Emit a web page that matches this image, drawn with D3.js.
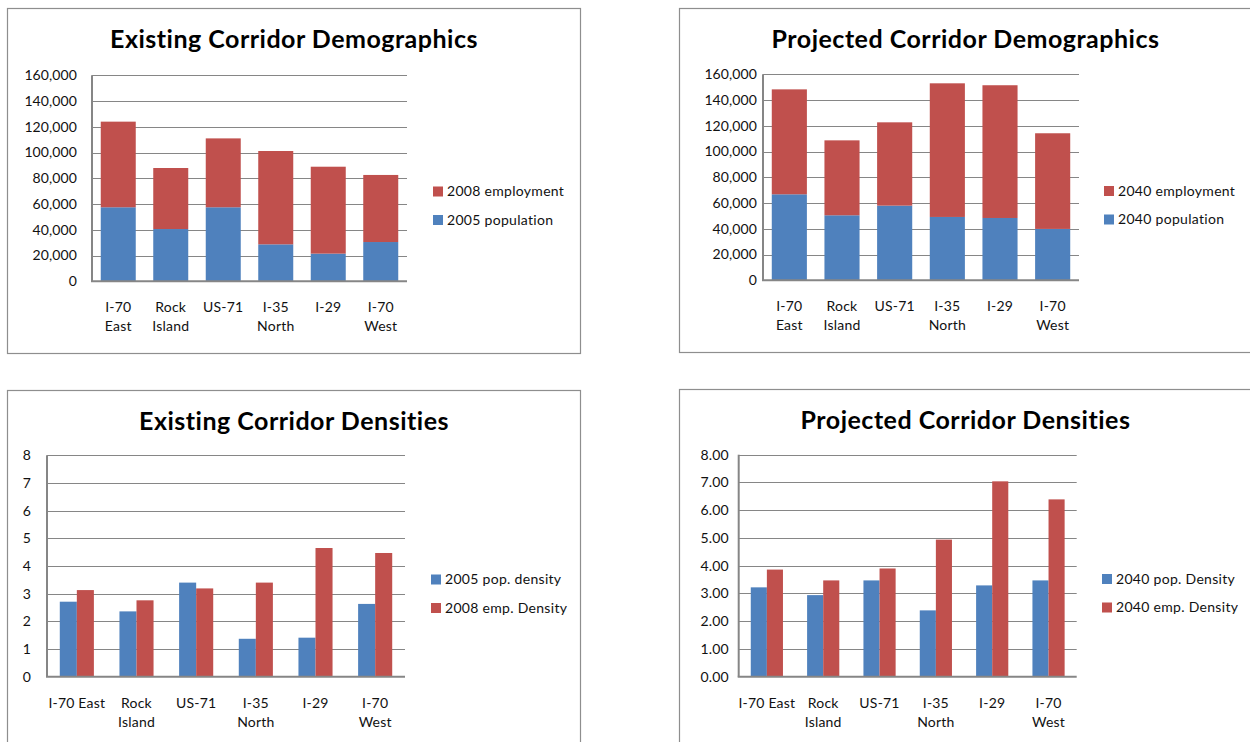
<!DOCTYPE html>
<html>
<head>
<meta charset="utf-8">
<script src="https://cdn.jsdelivr.net/npm/d3@7"></script>
<style>
  html, body { margin: 0; padding: 0; background: #fff; }
  svg { display: block; font-family: Lato, "Open Sans", sans-serif; }
</style>
</head>
<body>
<svg id="chart" width="1250" height="742"></svg>
<script>
// Categories (multi-line labels split on \n)
const demoCategories = ["I-70\nEast", "Rock\nIsland", "US-71", "I-35\nNorth", "I-29", "I-70\nWest"];
const densCategories = ["I-70 East", "Rock\nIsland", "US-71", "I-35\nNorth", "I-29", "I-70\nWest"];

// Existing demographics
const pop2005 = [57500, 40600, 57500, 28700, 21500, 30500];
const emp2008 = [66500, 47400, 53500, 72500, 67500, 52100];

// Projected demographics
const pop2040 = [66800, 50500, 58000, 49200, 48400, 39900];
const emp2040 = [81500, 58200, 64700, 103800, 103100, 74300];

// Existing densities
const popDens2005 = [2.71, 2.36, 3.40, 1.37, 1.41, 2.63];
const empDens2008 = [3.13, 2.76, 3.19, 3.40, 4.65, 4.47];

// Projected densities
const popDens2040 = [3.22, 2.94, 3.47, 2.39, 3.29, 3.47];
const empDens2040 = [3.86, 3.47, 3.90, 4.94, 7.04, 6.39];

const demoTicks = [0, 20000, 40000, 60000, 80000, 100000, 120000, 140000, 160000];
const densTicks = [0, 1, 2, 3, 4, 5, 6, 7, 8];

const BLUE = "#4f81bd", RED = "#c0504d", GRID = "#868686", BORDER = "#8e8e8e";

const svg = d3.select("#chart");

const charts = [
  {
    title: "Existing Corridor Demographics", type: "stacked",
    box: {x: 7.5, y: 8.5, w: 573, h: 345},
    plot: {l: 92, r: 407, t: 75.3, b: 281.3}, labelGap: 15,
    cats: demoCategories, ticks: demoTicks, fmt: d3.format(","),
    series: [{name: "2005 population", values: pop2005, color: BLUE},
             {name: "2008 employment", values: emp2008, color: RED}],
    legend: {x: 433, y: 191.5, rev: true}
  },
  {
    title: "Projected Corridor Demographics", type: "stacked",
    box: {x: 679.5, y: 8.5, w: 572, h: 344},
    plot: {l: 763, r: 1079, t: 74.3, b: 280.3}, labelGap: 6,
    cats: demoCategories, ticks: demoTicks, fmt: d3.format(","),
    series: [{name: "2040 population", values: pop2040, color: BLUE},
             {name: "2040 employment", values: emp2040, color: RED}],
    legend: {x: 1104, y: 191, rev: true}
  },
  {
    title: "Existing Corridor Densities", type: "grouped",
    box: {x: 7.5, y: 390.5, w: 573, h: 360},
    plot: {l: 47, r: 405, t: 455.3, b: 676.7}, labelGap: 16,
    cats: densCategories, ticks: densTicks, fmt: d3.format("d"),
    series: [{name: "2005 pop. density", values: popDens2005, color: BLUE},
             {name: "2008 emp. Density", values: empDens2008, color: RED}],
    legend: {x: 431, y: 579.5, rev: false}
  },
  {
    title: "Projected Corridor Densities", type: "grouped",
    box: {x: 679.5, y: 389.5, w: 572, h: 360},
    plot: {l: 738.7, r: 1076.7, t: 454.7, b: 676.7}, labelGap: 10,
    cats: densCategories, ticks: densTicks, fmt: d3.format(".2f"),
    series: [{name: "2040 pop. Density", values: popDens2040, color: BLUE},
             {name: "2040 emp. Density", values: empDens2040, color: RED}],
    legend: {x: 1102, y: 579, rev: false}
  }
];

charts.forEach(drawChart);

function drawChart(c) {
  const g = svg.append("g");
  const p = c.plot;

  // chart frame
  g.append("rect")
    .attr("x", c.box.x).attr("y", c.box.y)
    .attr("width", c.box.w).attr("height", c.box.h)
    .attr("fill", "#fff").attr("stroke", BORDER).attr("stroke-width", 1.2);

  // title
  g.append("text")
    .attr("x", c.box.x + c.box.w / 2)
    .attr("y", c.box.y + 39.5)
    .attr("text-anchor", "middle")
    .style("font-size", "25px").style("font-weight", "700")
    .style("letter-spacing", "0.5px")
    .text(c.title);

  const y = d3.scaleLinear()
    .domain([c.ticks[0], c.ticks[c.ticks.length - 1]])
    .range([p.b, p.t]);

  const idx = c.cats.map((d, i) => i);
  let x;
  if (c.type === "stacked") {
    x = d3.scaleBand().domain(idx).range([p.l, p.r]).paddingInner(1 / 3).paddingOuter(1 / 6);
  } else {
    x = d3.scaleBand().domain(idx).range([p.l, p.r]).paddingInner(1.5 / 3.5).paddingOuter(0.75 / 3.5);
  }

  // gridlines
  g.append("g").selectAll("line")
    .data(c.ticks.slice(1))
    .enter().append("line")
    .attr("x1", p.l).attr("x2", p.r)
    .attr("y1", d => Math.round(y(d)) + 0.5).attr("y2", d => Math.round(y(d)) + 0.5)
    .attr("stroke", GRID).attr("stroke-width", 1);

  // y tick labels
  g.append("g").selectAll("text")
    .data(c.ticks)
    .enter().append("text")
    .attr("x", p.l - c.labelGap)
    .attr("y", d => y(d))
    .attr("dy", "0.35em")
    .attr("text-anchor", "end")
    .style("font-size", "14px").style("letter-spacing", "0.1px").attr("fill", "#111")
    .text(d => c.fmt(d));

  // bars
  if (c.type === "stacked") {
    const rows = idx.map(i => {
      const o = {i: i};
      c.series.forEach((s, k) => o["s" + k] = s.values[i]);
      return o;
    });
    const stack = d3.stack().keys(c.series.map((s, k) => "s" + k))(rows);
    stack.forEach((layer, k) => {
      g.append("g").selectAll("rect")
        .data(layer)
        .enter().append("rect")
        .attr("x", d => x(d.data.i))
        .attr("width", x.bandwidth())
        .attr("y", d => y(d[1]))
        .attr("height", d => y(d[0]) - y(d[1]))
        .attr("fill", c.series[k].color);
    });
  } else {
    const x1 = d3.scaleBand().domain(c.series.map((s, k) => k)).range([0, x.bandwidth()]);
    c.series.forEach((s, k) => {
      g.append("g").selectAll("rect")
        .data(s.values)
        .enter().append("rect")
        .attr("x", (d, i) => x(i) + x1(k))
        .attr("width", x1.bandwidth())
        .attr("y", d => y(d))
        .attr("height", d => p.b - y(d))
        .attr("fill", s.color);
    });
  }

  // axes lines
  g.append("line")
    .attr("x1", p.l).attr("x2", p.l).attr("y1", p.t).attr("y2", p.b)
    .attr("stroke", GRID).attr("stroke-width", 2);
  g.append("line")
    .attr("x1", p.l - 1).attr("x2", p.r).attr("y1", p.b).attr("y2", p.b)
    .attr("stroke", GRID).attr("stroke-width", 2);

  // category labels
  const cat = g.append("g").selectAll("text")
    .data(c.cats)
    .enter().append("text")
    .attr("x", (d, i) => x(i) + x.bandwidth() / 2)
    .attr("y", p.b + 31)
    .attr("text-anchor", "middle")
    .style("font-size", "14px").style("letter-spacing", "0.2px").attr("fill", "#111");
  cat.each(function(d) {
    const lines = d.split("\n");
    const t = d3.select(this);
    lines.forEach((ln, j) => {
      t.append("tspan")
        .attr("x", t.attr("x"))
        .attr("dy", j === 0 ? 0 : 19)
        .text(ln);
    });
  });

  // legend
  const items = c.legend.rev ? c.series.slice().reverse() : c.series.slice();
  const lg = g.append("g").selectAll("g")
    .data(items)
    .enter().append("g")
    .attr("transform", (d, j) => `translate(${c.legend.x},${c.legend.y + j * 28.5})`);
  lg.append("rect")
    .attr("x", 0).attr("y", -5).attr("width", 10).attr("height", 10)
    .attr("fill", d => d.color);
  lg.append("text")
    .attr("x", 14).attr("y", 0).attr("dy", "0.35em")
    .style("font-size", "14px").style("letter-spacing", "0.3px").attr("fill", "#111")
    .text(d => d.name);
}
</script>
</body>
</html>
